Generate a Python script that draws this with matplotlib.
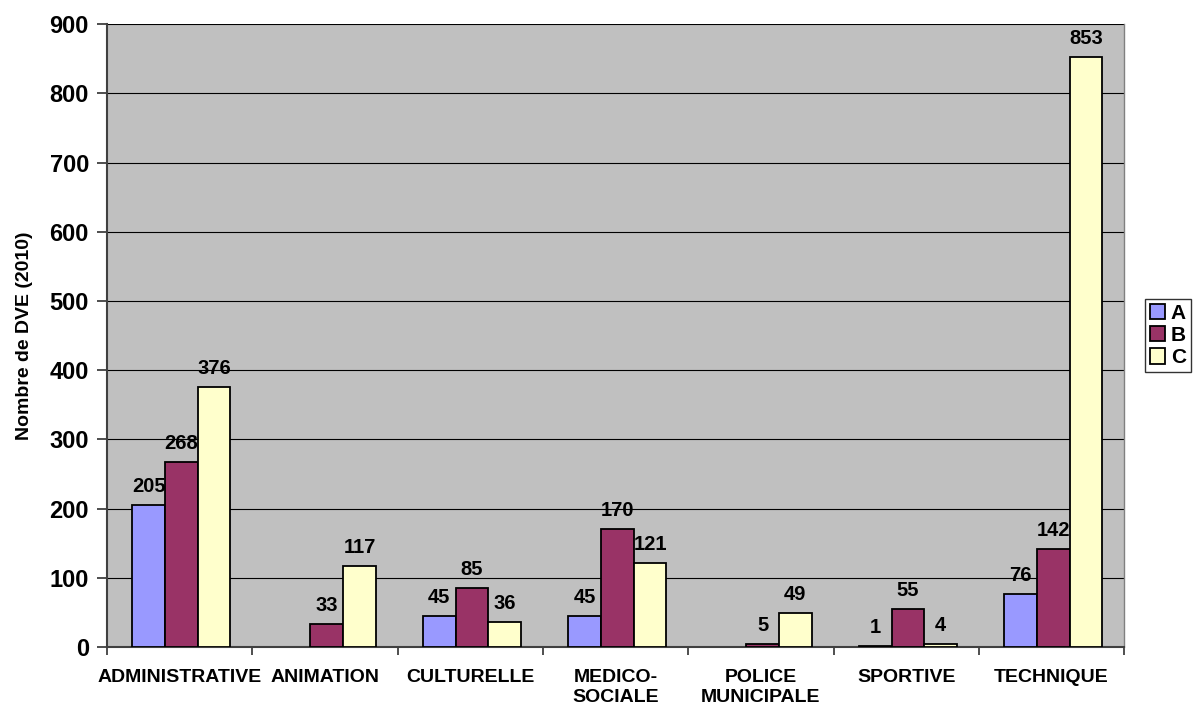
import numpy as np
import matplotlib
matplotlib.use("Agg")
import matplotlib.pyplot as plt

plt.rcParams['font.family'] = ['Liberation Sans', 'DejaVu Sans']
plt.rcParams['font.weight'] = 'bold'

categories = ["ADMINISTRATIVE", "ANIMATION", "CULTURELLE", "MEDICO-\nSOCIALE",
              "POLICE\nMUNICIPALE", "SPORTIVE", "TECHNIQUE"]
series_names = ["A", "B", "C"]
values_a = [205, None, 45, 45, None, 1, 76]
values_b = [268, 33, 85, 170, 5, 55, 142]
values_c = [376, 117, 36, 121, 49, 4, 853]
colors = ["#9999FF", "#993366", "#FFFFCC"]

fig = plt.figure(figsize=(11.96, 7.1), dpi=100)
ax = fig.add_axes([0.0895, 0.0887, 0.8505, 0.8773])
ax.set_facecolor("#C0C0C0")

x = np.arange(len(categories))
width = 0.225
for i, (vals, col, name) in enumerate(zip([values_a, values_b, values_c], colors, series_names)):
    pos = x + (i - 1) * width + 0.012
    keep = [j for j, v in enumerate(vals) if v is not None]
    ax.bar(pos[keep], [vals[j] for j in keep], width, color=col, edgecolor="black",
           linewidth=1.3, label=name, zorder=3)
    for j in keep:
        ax.text(pos[j], vals[j] + 13, str(vals[j]), ha="center", va="bottom",
                fontsize=14.5, fontweight="bold", zorder=4)

ax.set_xlim(-0.5, len(categories) - 0.5)
ax.set_ylim(0, 900)
ax.set_yticks(np.arange(0, 901, 100))
ax.yaxis.grid(True, color="black", linewidth=0.8, zorder=1)
ax.set_axisbelow(True)

ax.set_xticks(x)
ax.set_xticklabels(categories, fontsize=14, fontweight="bold", linespacing=1.2)
ax.tick_params(axis="x", length=0, pad=16)
ax.set_xticks(np.arange(-0.5, len(categories)), minor=True)
ax.tick_params(axis="x", which="minor", length=6, width=1.3, color="#404040")
ax.tick_params(axis="y", length=7, width=1.3, color="#404040", labelsize=17, pad=6)
for lab in ax.get_yticklabels():
    lab.set_fontweight("bold")

ax.set_ylabel("Nombre de DVE (2010)", fontsize=14, fontweight="bold", labelpad=12)

for s in ["left", "bottom"]:
    ax.spines[s].set_color("#404040")
    ax.spines[s].set_linewidth(1.5)
ax.spines["top"].set_visible(False)
ax.spines["right"].set_color("#808080")
ax.spines["right"].set_linewidth(1.0)

leg = ax.legend(loc="center left", bbox_to_anchor=(1.02, 0.5), fontsize=15,
                frameon=True, fancybox=False, edgecolor="black",
                handlelength=0.75, handleheight=0.75, handletextpad=0.25,
                borderpad=0.25, labelspacing=0.15, borderaxespad=0)
leg.get_frame().set_linewidth(1.0)
for t in leg.get_texts():
    t.set_fontweight("bold")

fig.savefig("out.png", dpi=100)
